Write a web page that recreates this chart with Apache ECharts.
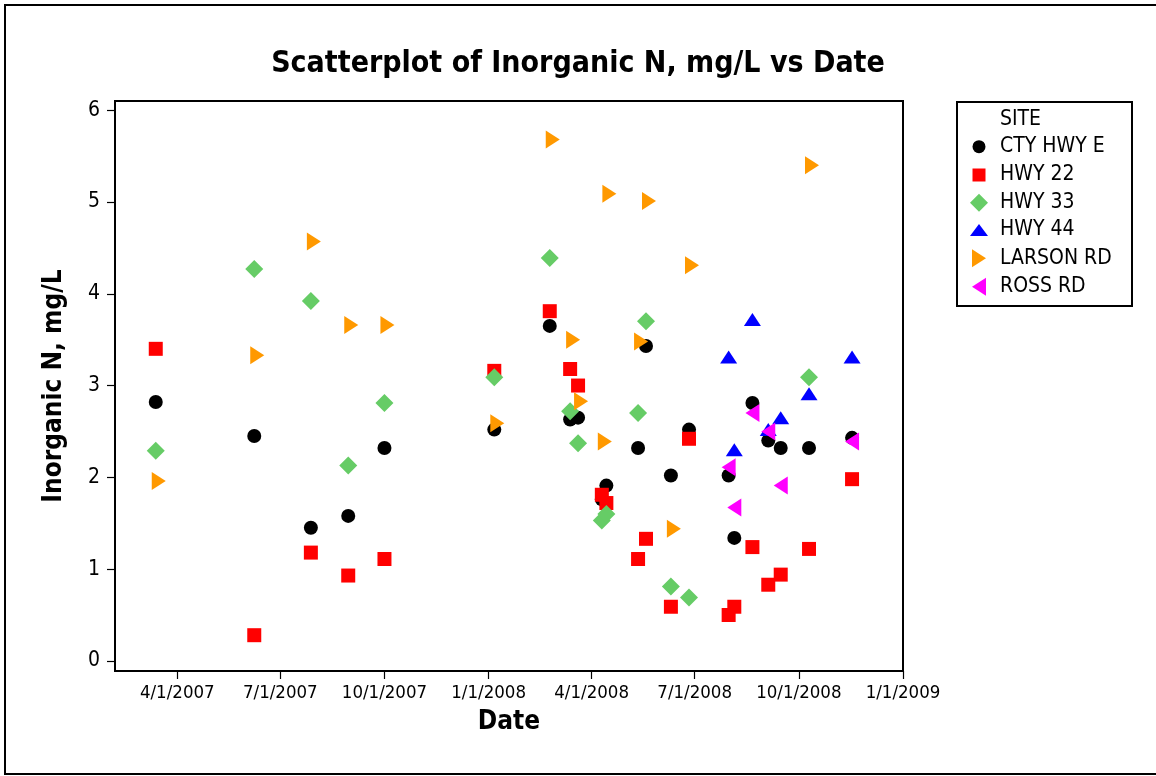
<!DOCTYPE html>
<html>
<head>
<meta charset="utf-8">
<script src="https://cdn.jsdelivr.net/npm/echarts@6/dist/echarts.min.js"></script>
<style>
  html, body { margin: 0; padding: 0; background: #ffffff; }
  #chart { width: 1156px; height: 776px; }
</style>
</head>
<body>
<div id="chart"></div>
<script>
// Sampling rounds (date of each field visit)
const rounds = [
  '2007-03-13', '2007-06-08', '2007-07-28', '2007-08-30', '2007-10-01',
  '2008-01-06', '2008-02-24', '2008-03-13', '2008-03-20', '2008-04-10',
  '2008-04-14', '2008-05-12', '2008-05-19', '2008-06-10', '2008-06-26',
  '2008-07-31', '2008-08-05', '2008-08-21', '2008-09-04', '2008-09-15',
  '2008-10-10', '2008-11-17'
];

// Inorganic N (mg/L) per site, one entry per sampling round (null = not sampled)
const ctyHwyE = [2.82, 2.45, 1.45, 1.58, 2.32, 2.52, 3.65, 2.63, 2.65, 1.76, 1.91,
                 2.32, 3.43, 2.02, 2.52, 2.02, 1.34, 2.81, 2.40, 2.32, 2.32, 2.43];
const hwy22   = [3.40, 0.28, 1.18, 0.93, 1.11, 3.16, 3.81, 3.18, 3.00, 1.81, 1.72,
                 1.11, 1.33, 0.59, 2.42, 0.50, 0.59, 1.24, 0.83, 0.94, 1.22, 1.98];
const hwy33   = [2.29, 4.27, 3.92, 2.13, 2.81, 3.09, 4.39, 2.72, 2.37, 1.53, 1.60,
                 2.70, 3.70, 0.81, 0.69, null, null, null, null, null, 3.09, null];
const hwy44   = [null, null, null, null, null, null, null, null, null, null, null,
                 null, null, null, null, 3.31, 2.30, 3.72, 2.52, 2.65, 2.91, 3.31];
const larsonRd = [1.96, 3.33, 4.57, 3.66, 3.66, 2.59, 5.68, 3.50, 2.83, 2.39, 5.09,
                  3.48, 5.01, 1.44, 4.31, null, null, null, null, null, 5.40, null];
const rossRd  = [null, null, null, null, null, null, null, null, null, null, null,
                 null, null, null, null, 2.11, 1.67, 2.70, 2.50, 1.91, null, 2.39];

// Axis ticks
const dateTicks = ['2007-04-01', '2007-07-01', '2007-10-01', '2008-01-01',
                   '2008-04-01', '2008-07-01', '2008-10-01', '2009-01-01'];
const valueTicks = [0, 1, 2, 3, 4, 5, 6];

const FONT = "'DejaVu Sans Condensed', 'DejaVu Sans', sans-serif";

function toTime(s) {
  const p = s.split('-').map(Number);
  return Date.UTC(p[0], p[1] - 1, p[2]);
}
function points(values) {
  const out = [];
  rounds.forEach((d, i) => { if (values[i] != null) out.push([toTime(d), values[i]]); });
  return out;
}
function fmtDate(v) {
  const d = new Date(v);
  return (d.getUTCMonth() + 1) + '/' + d.getUTCDate() + '/' + d.getUTCFullYear();
}

const RIGHT_TRI = 'path://M0,0L14,9L0,18Z';
const LEFT_TRI = 'path://M14,0L0,9L14,18Z';

const sites = [
  { name: 'CTY HWY E', data: ctyHwyE,  color: '#000000', symbol: 'circle',   size: [14, 14], offset: [0, 0] },
  { name: 'HWY 22',    data: hwy22,    color: '#ff0000', symbol: 'rect',     size: [14, 14], offset: [0, 0] },
  { name: 'HWY 33',    data: hwy33,    color: '#66cc66', symbol: 'diamond',  size: [18, 18], offset: [0, 0] },
  { name: 'HWY 44',    data: hwy44,    color: '#0000ff', symbol: 'triangle', size: [17, 13], offset: [0, 0] },
  { name: 'LARSON RD', data: larsonRd, color: '#ff9900', symbol: RIGHT_TRI,  size: [14, 18], offset: [3, 0] },
  { name: 'ROSS RD',   data: rossRd,   color: '#ff00ff', symbol: LEFT_TRI,   size: [14, 18], offset: [0, 0] }
];

// Legend rows: icon sizes and row centres inside the framed key
const legendIcon = [[13, 13], [13, 13], [18, 18], [18, 12], [14, 18], [14, 18]];
const legendRowY = [146.7, 175, 202.7, 230, 258.3, 286.7];
const ICON_CX = 979, TEXT_X = 1000;

const legends = sites.map((s, i) => {
  const w = legendIcon[i][0], h = legendIcon[i][1];
  return {
    data: [s.name],
    orient: 'vertical',
    left: ICON_CX - w / 2,
    top: legendRowY[i] - 11,
    padding: 0,
    itemWidth: w,
    itemHeight: h,
    selectedMode: false,
    textStyle: {
      fontFamily: FONT, fontSize: 21, color: '#000', lineHeight: 22,
      padding: [0, 0, 0, TEXT_X - (ICON_CX + w / 2 + 5)]
    }
  };
});

const chart = echarts.init(document.getElementById('chart'));
chart.setOption({
  animation: false,
  backgroundColor: '#ffffff',
  title: {
    text: 'Scatterplot of Inorganic N, mg/L vs Date',
    left: 'center',
    top: 44,
    textStyle: { fontFamily: FONT, fontSize: 30, fontWeight: 'bold', color: '#000' }
  },
  graphic: [
    { type: 'rect', shape: { x: 5, y: 5, width: 1170, height: 769 },
      style: { fill: 'none', stroke: '#000', lineWidth: 2 }, silent: true },
    { type: 'rect', shape: { x: 957, y: 102, width: 175, height: 204 },
      style: { fill: 'none', stroke: '#000', lineWidth: 2 }, silent: true },
    { type: 'text', left: TEXT_X, top: 109,
      style: { text: 'SITE', fontFamily: FONT, fontSize: 21, fill: '#000' }, silent: true }
  ],
  legend: legends,
  grid: {
    left: 115, right: 253, top: 101, bottom: 105,
    show: true, borderColor: '#000', borderWidth: 2, containLabel: false
  },
  xAxis: {
    type: 'value',
    min: toTime('2007-02-05'),
    max: toTime('2009-01-01'),
    name: 'Date',
    nameLocation: 'middle',
    nameGap: 38,
    nameTextStyle: { fontFamily: FONT, fontSize: 26, fontWeight: 'bold', color: '#000' },
    splitLine: { show: false },
    axisLine: { show: true, onZero: false, lineStyle: { color: '#000', width: 2 } },
    axisTick: { show: true, length: 8, lineStyle: { color: '#000', width: 1.2 },
                customValues: dateTicks.map(toTime) },
    axisLabel: { fontFamily: FONT, fontSize: 18.5, color: '#000', margin: 13,
                 customValues: dateTicks.map(toTime), formatter: fmtDate }
  },
  yAxis: {
    type: 'value',
    min: -0.11,
    max: 6.10,
    name: 'Inorganic N, mg/L',
    nameLocation: 'middle',
    nameRotate: 90,
    nameGap: 48,
    nameTextStyle: { fontFamily: FONT, fontSize: 26, fontWeight: 'bold', color: '#000' },
    splitLine: { show: false },
    axisLine: { show: true, onZero: false, lineStyle: { color: '#000', width: 2 } },
    axisTick: { show: true, length: 8, lineStyle: { color: '#000', width: 1.2 },
                customValues: valueTicks },
    axisLabel: { fontFamily: FONT, fontSize: 21, color: '#000', margin: 15,
                 customValues: valueTicks }
  },
  series: sites.map(s => ({
    type: 'scatter',
    name: s.name,
    data: points(s.data),
    symbol: s.symbol,
    symbolSize: s.size,
    symbolOffset: s.offset,
    itemStyle: { color: s.color, opacity: 1 },
    emphasis: { disabled: true },
    silent: true
  }))
});
</script>
</body>
</html>
